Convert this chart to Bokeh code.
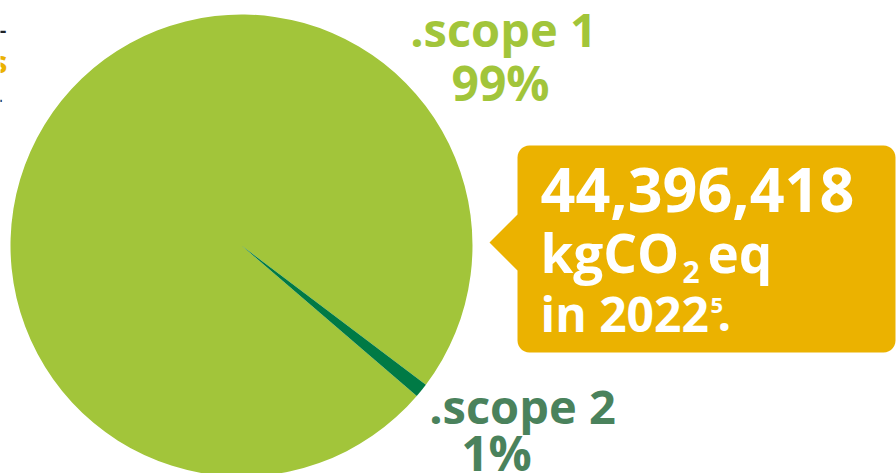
import numpy as np
from bokeh.plotting import figure
from bokeh.models import Range1d, ColumnDataSource
from bokeh.core.properties import value
from bokeh.embed import file_html
from bokeh.resources import INLINE

# ---- data ----
scopes = [".scope 1", ".scope 2"]
shares = [99, 1]
share_labels = ["99%", "1%"]
total_kg = 44396418
unit_main = "kgCO"
unit_sub = "2"
unit_tail = "eq"
year = 2022
footnote = "5"

W, H = 896, 473
FONT = "Open Sans"
SHIFT = 0.37  # empirical baseline compensation (fraction of font size)

def X(px):
    return px

def Y(py):
    return H - py

p = figure(width=W, height=H, output_backend="svg", toolbar_location=None,
           x_range=Range1d(0, W), y_range=Range1d(0, H), min_border=0)
p.axis.visible = False
p.grid.visible = False
p.outline_line_color = None
p.background_fill_color = "white"
p.border_fill_color = "white"

# ---- pie ----
frac = np.array(shares, dtype=float) / sum(shares)
start0 = np.deg2rad(-40.65)
order = [1, 0]
angles = np.cumsum([0] + [frac[i] * 2 * np.pi for i in order])
starts = {order[k]: start0 + angles[k] for k in range(2)}
ends = {order[k]: start0 + angles[k + 1] for k in range(2)}
src = ColumnDataSource(dict(
    start=[starts[0], starts[1]],
    end=[ends[0], ends[1]],
    color=["#A2C53A", "#007A45"],
))
p.wedge(x=X(241), y=Y(245), radius=231, start_angle="start", end_angle="end",
        color="color", line_color=None, source=src)

def txt(x, y, s, size, color, align="left"):
    p.text(x=[X(x)], y=[Y(y - SHIFT * size)], text=[s], text_align=align,
           text_baseline="alphabetic", text_font=value(FONT), text_font_style="bold",
           text_font_size=f"{size}px", text_color=color)

# ---- pie labels ----
lab_color = ["#A2C53A", "#4A825C"]
txt(503, 46, scopes[0], 47, lab_color[0], "center")
txt(500, 100, share_labels[0], 48, lab_color[0], "center")
txt(522, 423, scopes[1], 47, lab_color[1], "center")
txt(496, 470, share_labels[1], 48, lab_color[1], "center")

# ---- callout box (rounded rect with pointer) ----
def rounded_callout(l, t, r, b, rad, tip, base_top, base_bot, n=8):
    xs, ys = [], []
    def arc(cx, cy, a0, a1):
        for a in np.linspace(a0, a1, n):
            xs.append(cx + rad * np.cos(a))
            ys.append(cy + rad * np.sin(a))
    arc(l + rad, t + rad, np.pi, 1.5 * np.pi)
    arc(r - rad, t + rad, 1.5 * np.pi, 2 * np.pi)
    arc(r - rad, b - rad, 0, 0.5 * np.pi)
    arc(l + rad, b - rad, 0.5 * np.pi, np.pi)
    xs += [l, tip[0], l]
    ys += [base_bot, tip[1], base_top]
    return [X(v) for v in xs], [Y(v) for v in ys]

cx, cy = rounded_callout(517, 145, 895, 352, 12, (489, 242), 214, 270)
p.patch(cx, cy, fill_color="#EBB200", line_color=None)

white = "white"
txt(540, 212, f"{total_kg:,}", 61, white)
txt(540, 272, unit_main, 53, white)
txt(682, 283, unit_sub, 30, white)
txt(707, 272, unit_tail, 53, white)
txt(540, 331, f"in {year}", 48, white)
txt(710, 313, footnote, 22, white)
txt(717, 331, ".", 48, white)

# ---- fragments of text cut at the left edge ----
txt(6, 36, "\u2013", 20, "#222222", "right")
txt(7, 72, "s", 30, "#EBB200", "right")
txt(2, 105, "\u2013", 20, "#222222", "right")

open("out.html", "w").write(file_html(p, INLINE))
